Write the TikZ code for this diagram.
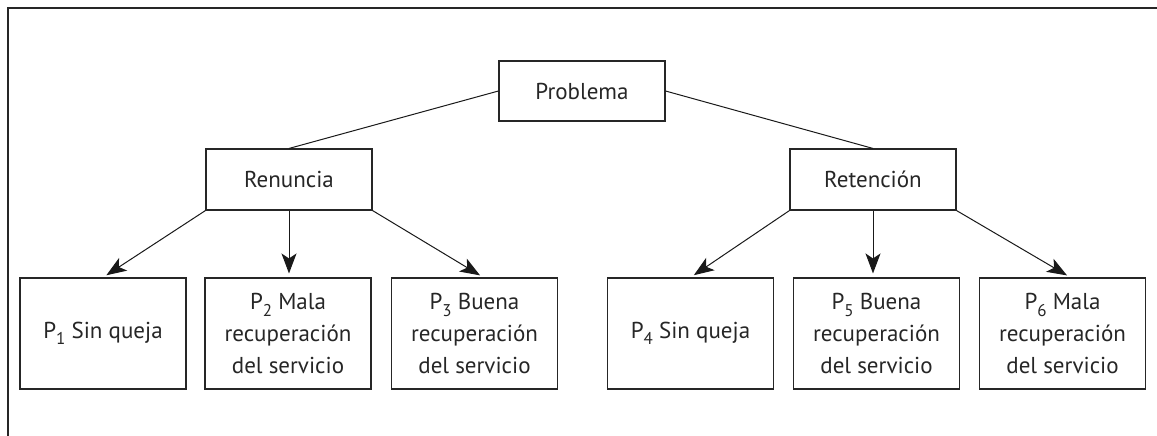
\documentclass[tikz,border=0pt]{standalone}
\usepackage{fontspec}
\setmainfont{PT Sans}
\usetikzlibrary{arrows.meta}
\newcommand{\sub}[1]{\raisebox{-6.5pt}{\fontsize{17}{17}\selectfont #1}}

\begin{document}
\begin{tikzpicture}[x=1pt,y=-1pt,
 caja/.style={draw=black!85,line width=1.1pt,minimum width=166pt,minimum height=61pt,
   align=center,text=black!85,font=\fontsize{23}{32}\selectfont},
 hoja/.style={caja,minimum height=111pt},
 flecha/.style={draw=black!90,line width=1pt,-{Stealth[length=20pt,width=15pt,inset=5pt]},shorten >=4pt}]
\useasboundingbox (0,0) rectangle (1157,436);
% marco
\draw[black!85,line width=1.6pt] (8,436) -- (8,8) -- (1157,8);
% niveles superiores
\node[caja,minimum height=60pt] (prob) at (582,91) {Problema};
\node[caja] (ren) at (289,179.5) {Renuncia};
\node[caja] (ret) at (873,179.5) {Retención};
\draw[black!90,line width=1pt] (prob.west) -- (ren.north);
\draw[black!90,line width=1pt] (prob.east) -- (ret.north);
% hojas
\foreach \n/\x/\t in {p1/103/{P\sub{1} Sin queja},
  p2/288/{P\sub{2} Mala\\recuperación\\del servicio},
  p3/474.5/{P\sub{3} Buena\\recuperación\\del servicio},
  p4/690.5/{P\sub{4} Sin queja},
  p5/876.5/{P\sub{5} Buena\\recuperación\\del servicio},
  p6/1062.5/{P\sub{6} Mala\\recuperación\\del servicio}}
  {\node[hoja] (\n) at (\x,333.5) {\t};}
\draw[flecha] (ren.south west) -- (p1.north);
\draw[flecha] (ren.south) -- (ren.south |- p2.north);
\draw[flecha] (ren.south east) -- ([xshift=9pt]p3.north);
\draw[flecha] (ret.south west) -- (p4.north);
\draw[flecha] (ret.south) -- (ret.south |- p5.north);
\draw[flecha] (ret.south east) -- ([xshift=8pt]p6.north);
\end{tikzpicture}
\end{document}
